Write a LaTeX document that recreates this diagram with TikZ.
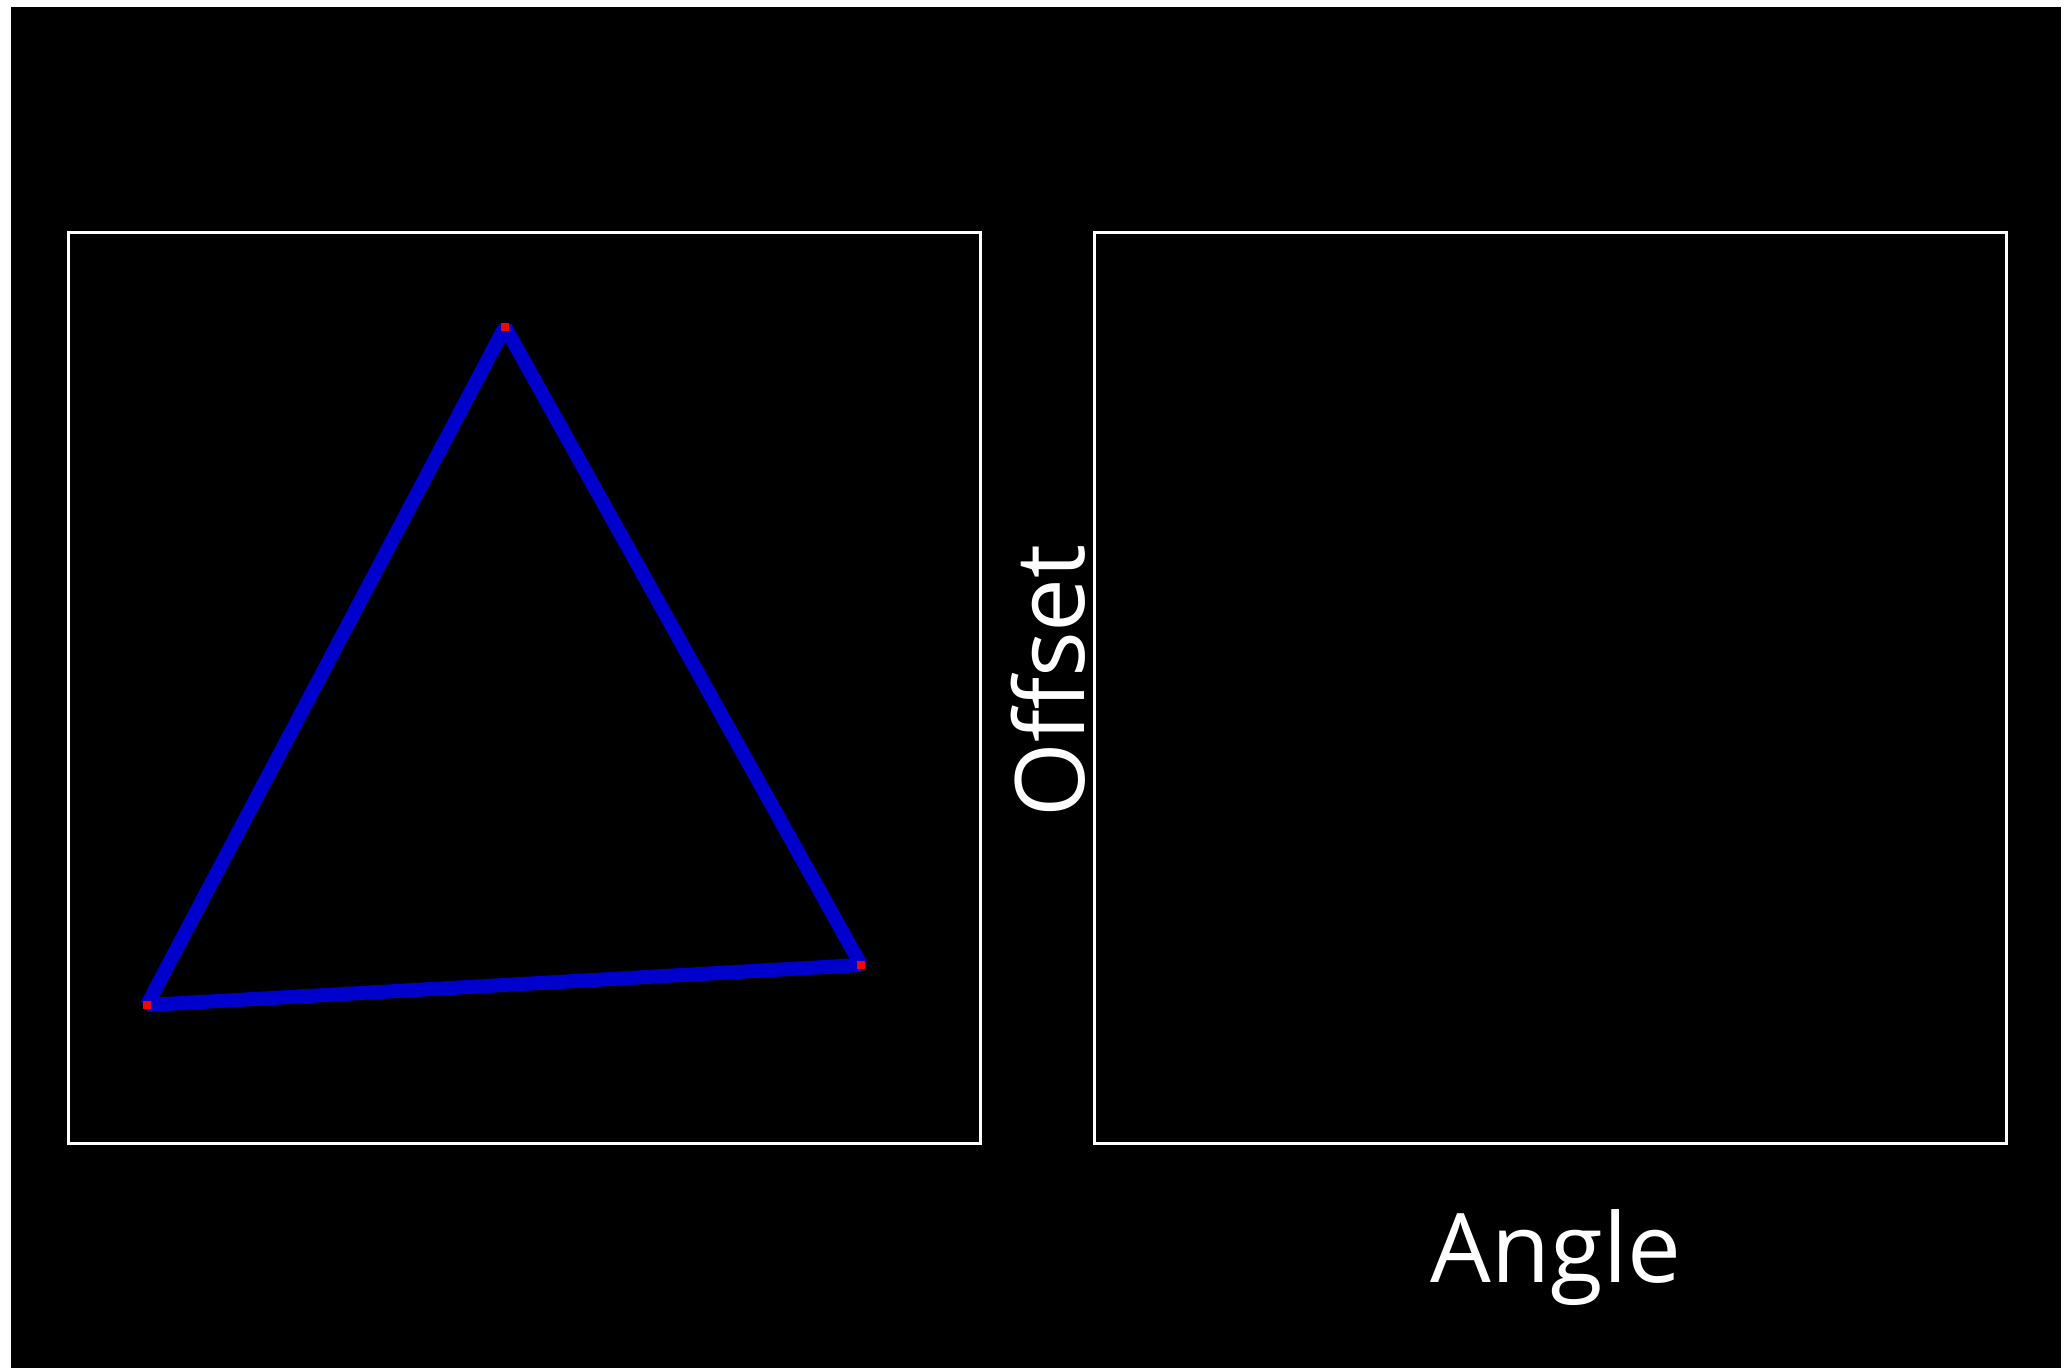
\documentclass[tikz,border=0pt]{standalone}
\usepackage{fontspec}
\setmainfont{Open Sans}
\usetikzlibrary{positioning}

\begin{document}
\begin{tikzpicture}[
  x=0.5pt, y=-0.5pt,
  panel/.style={
    rectangle, draw=white, line width=1.5pt, fill=black,
    minimum width=456pt, minimum height=455pt, inner sep=0pt
  },
  vertex/.style={
    rectangle, fill=red, minimum size=4pt, inner sep=0pt
  },
  edge/.style={draw={rgb,255:red,0;green,0;blue,204}, line width=7pt, line cap=butt},
  axislabel/.style={text=white, font=\fontsize{48}{56}\selectfont, inner sep=0pt},
]

%% ── Background ──────────────────────────────────────────────────────────────
\fill[white] (0,0) rectangle (2072,1368);
\fill[black] (11,7) rectangle (2061,1368);
\useasboundingbox (0,0) rectangle (2072,1368);

%% ── Panels ──────────────────────────────────────────────────────────────────
\node[panel] (left)  at (524.5, 688) {};
\node[panel] (right) at (1550, 688) {};

%% ── Triangle ────────────────────────────────────────────────────────────────
\coordinate (top)   at (505, 327);
\coordinate (bleft) at (147, 1005);
\coordinate (bright) at (861, 965);

\draw[edge] (bleft) -- (top);
\draw[edge] (top) -- (bright);
\draw[edge] (bright) -- (bleft);

\node[vertex] (vtop)    at (top) {};
\node[vertex] (vbleft)  at (bleft) {};
\node[vertex] (vbright) at (bright) {};

%% ── Labels ──────────────────────────────────────────────────────────────────
\node[axislabel, rotate=90] (offset) at (1048, 681) {Offset};
\node[axislabel] (angle) at (1556, 1258) {Angle};

\end{tikzpicture}
\end{document}
